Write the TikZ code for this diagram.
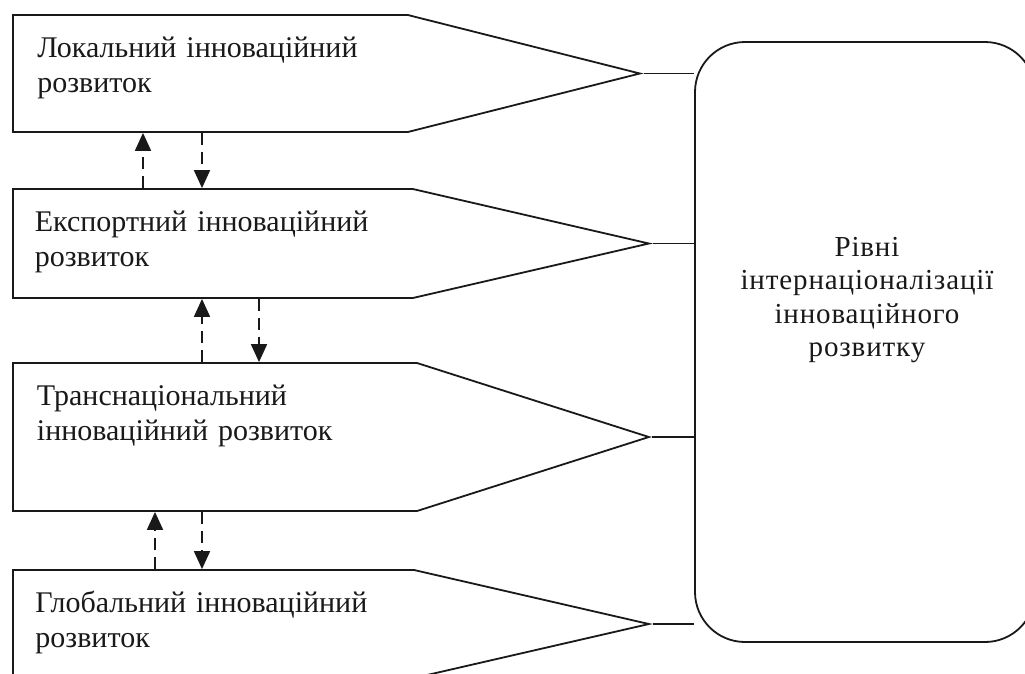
\documentclass[tikz,border=0pt]{standalone}
\usepackage{fontspec}
\setmainfont{Liberation Serif}
\newfontfamily\lvfont[LetterSpace=3]{Liberation Serif}
\usepackage{tikz}
\usetikzlibrary{shapes.symbols,arrows.meta,backgrounds}

\begin{document}
\begin{tikzpicture}[x=1pt,y=-1pt,
    lvl/.style={signal, signal to=east, draw=black!90, line width=1.8pt, fill=white,
        anchor=west, text=black!90, font=\fontsize{30}{35}\selectfont,
        text width=356pt, align=left, inner xsep=20pt, inner ysep=12pt, text height=30pt},
    lvbox/.style={draw=black!90, line width=1.8pt, fill=white, rounded corners=50pt,
        minimum width=340pt, minimum height=600pt},
    link/.style={draw=black!90, line width=1.8pt},
    dar/.style={draw=black!90, line width=1.8pt, dash pattern=on 12pt off 7pt,
        -{Triangle[width=16pt,length=18pt]}}]

    \useasboundingbox (0,0) rectangle (1025,673);
    \clip (0,0) rectangle (1025,673);

    % levels
    \node[lvl, minimum width=627pt, minimum height=117pt, text depth=63pt, text width=346pt,
        signal pointer angle=28.3] (b1) at (12,73.5) {Локальний інноваційний\\розвиток};
    \node[lvl, minimum width=636pt, minimum height=109pt, text depth=55pt,
        signal pointer angle=26] (b2) at (12,243.5) {Експортний інноваційний\\розвиток};
    \node[lvl, minimum width=636pt, minimum height=148pt, text depth=94pt,
        signal pointer angle=35.4] (b3) at (12,437) {Транснаціональний\\інноваційний розвиток};
    \node[lvl, minimum width=636pt, minimum height=108pt, text depth=54pt,
        signal pointer angle=25.9] (b4) at (12,624) {Глобальний інноваційний\\розвиток};

    \node[lvbox] (lv) at (865,342) {};
    \node[text=black!90, font=\lvfont\fontsize{29}{33.3}\selectfont, align=center]
        (lvt) at (867,300) {Рівні\\інтернаціоналізації\\інноваційного\\розвитку};

    \begin{scope}[on background layer]
    \foreach \b in {b1,b2,b3,b4}
        \draw[link] (\b.east) -- (\b.east -| lv.west);
    \end{scope}

    % dashed arrows
    \coordinate (x1) at (143,0);
    \coordinate (x2) at (202,0);
    \coordinate (x3) at (259,0);
    \coordinate (x4) at (155,0);
    \draw[dar] (b2.north -| x1) -- (b1.south -| x1);
    \draw[dar] (b1.south -| x2) -- (b2.north -| x2);
    \draw[dar] (b3.north -| x2) -- (b2.south -| x2);
    \draw[dar] (b2.south -| x3) -- (b3.north -| x3);
    \draw[dar] (b4.north -| x4) -- (b3.south -| x4);
    \draw[dar] (b3.south -| x2) -- (b4.north -| x2);

\end{tikzpicture}
\end{document}
